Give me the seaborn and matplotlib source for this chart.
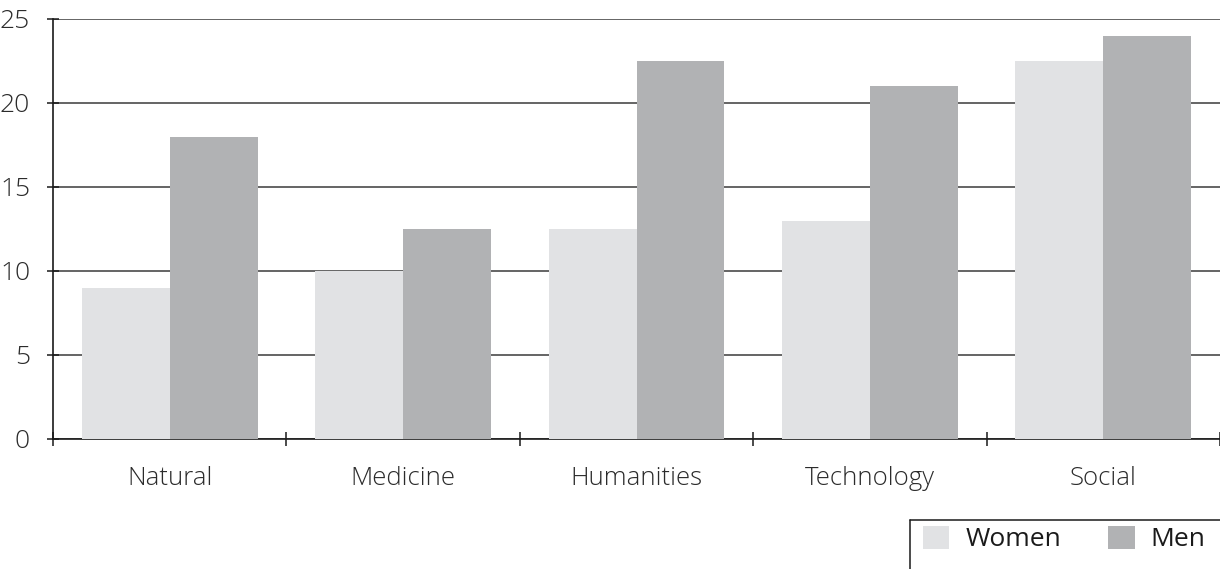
import matplotlib
matplotlib.use("Agg")
import matplotlib.pyplot as plt
import seaborn as sns
import pandas as pd
from matplotlib.lines import Line2D
from matplotlib.patches import Patch

categories = ["Natural", "Medicine", "Humanities", "Technology", "Social"]
women = [9, 10, 12.5, 13, 22.5]
men = [18, 12.5, 22.5, 21, 24]
series = ["Women", "Men"]
colors = {"Women": "#e1e2e4", "Men": "#b1b2b4"}

df = pd.DataFrame({
    "field": categories * 2,
    "value": women + men,
    "sex": ["Women"] * len(categories) + ["Men"] * len(categories),
})

sns.set_style("white")
plt.rcParams["font.family"] = ["Open Sans", "DejaVu Sans"]
text_col = "#2b2b2b"

fig = plt.figure(figsize=(12.2, 5.69), dpi=100)
ax = fig.add_axes([53 / 1220, 1 - 439 / 569, 1 - 53 / 1220, 420 / 569])

sns.barplot(data=df, x="field", y="value", hue="sex", order=categories,
            hue_order=series, palette=colors, width=0.754, gap=0,
            saturation=1, edgecolor="none", linewidth=0, legend=False,
            ax=ax, zorder=3)

ax.set_xlim(-0.5, 4.5)
ax.set_ylim(0, 25)
ax.set_yticks([0, 5, 10, 15, 20, 25])
ax.yaxis.grid(True, color="#3a3a3a", linewidth=1.1, zorder=0)
ax.set_axisbelow(True)
ax.set_xlabel("")
ax.set_ylabel("")

for s in ["top", "right"]:
    ax.spines[s].set_visible(False)
for s in ["left", "bottom"]:
    ax.spines[s].set_color("#1a1a1a")
    ax.spines[s].set_linewidth(1.2)

ax.set_xticks(range(len(categories)))
ax.set_xticklabels(categories)
ax.set_xticks([i - 0.5 for i in range(len(categories) + 1)], minor=True)
ax.tick_params(axis="x", which="major", bottom=False, pad=16,
               labelsize=18.5, labelcolor=text_col)
ax.tick_params(axis="x", which="minor", bottom=True, direction="inout",
               length=10, width=1.1, color="#1a1a1a")
ax.tick_params(axis="y", left=True, direction="inout", length=9, width=1.1,
               color="#1a1a1a", pad=12, labelsize=19, labelcolor=text_col)
for lab in ax.get_xticklabels() + ax.get_yticklabels():
    lab.set_fontweight("light")

# legend box: only top and left edges visible within the image
x0, y0 = 910 / 1220, 1 - 520 / 569
fig.add_artist(Line2D([x0, 1.0], [y0, y0], transform=fig.transFigure,
                      color="#1a1a1a", linewidth=1.1))
fig.add_artist(Line2D([x0, x0], [y0, 0], transform=fig.transFigure,
                      color="#1a1a1a", linewidth=1.1))
handles = [Patch(facecolor=colors[s], edgecolor="none", label=s) for s in series]
leg = fig.legend(handles=handles, loc="center left",
                 bbox_to_anchor=(923 / 1220, 1 - 539 / 569), ncol=2,
                 frameon=False, fontsize=19, handlelength=1.0,
                 handleheight=1.0, handletextpad=0.6, columnspacing=1.8,
                 borderpad=0, borderaxespad=0)
for t in leg.get_texts():
    t.set_color("#1a1a1a")

fig.savefig("out.png", dpi=100)
